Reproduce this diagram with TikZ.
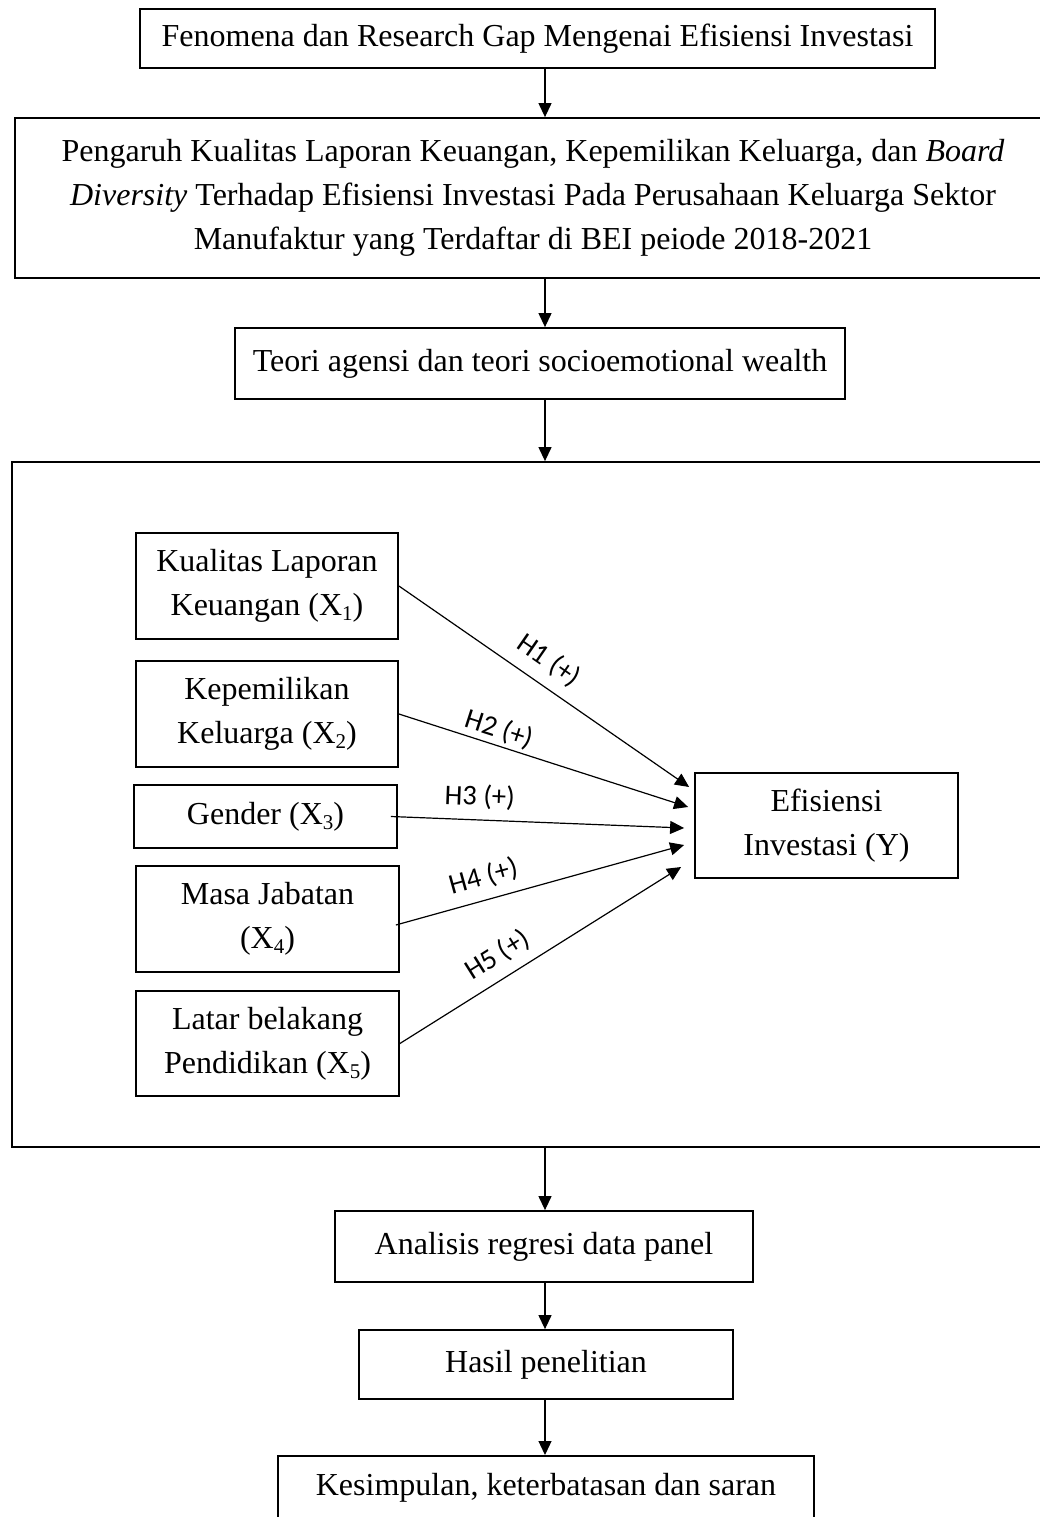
\documentclass[tikz,border=0pt]{standalone}
\usepackage{fontspec}
\setmainfont{Liberation Serif}
\newfontfamily\lblfont{Carlito}
\usetikzlibrary{arrows.meta,calc}
\newcommand\xsub[1]{\raisebox{-0.16em}{\fontsize{21}{21}\selectfont #1}}
\newcommand\mainsz{\fontsize{32}{44}\selectfont}
\tikzset{
  box/.style={draw=black, line width=1.8pt, inner sep=0pt, align=center, font=\mainsz},
  arr/.style={-{Triangle[length=14pt,width=13pt]}, line width=1.2pt},
  hlbl/.style={font=\lblfont\fontsize{28.5}{30}\selectfont, sloped, inner sep=0pt}
}
\begin{document}
\begin{tikzpicture}[x=1pt,y=-1pt]
\useasboundingbox (0,0) rectangle (1040,1517);
\fill[white] (0,0) rectangle (1040,1517);
\coordinate (ax) at (545,0);

\node[box, minimum width=795pt, minimum height=59pt] (b1) at (537.5,38.7)
  {Fenomena dan Research Gap Mengenai Efisiensi Investasi};
\node[box, minimum width=1036pt, minimum height=160pt] (b2) at (533,198)
  {Pengaruh Kualitas Laporan Keuangan, Kepemilikan Keluarga, dan \textit{Board}\\
   \textit{Diversity} Terhadap Efisiensi Investasi Pada Perusahaan Keluarga Sektor\\
   Manufaktur yang Terdaftar di BEI peiode 2018-2021};
\node[box, minimum width=610pt, minimum height=71pt] (b3) at (540,363.5)
  {Teori agensi dan teori socioemotional wealth};
\node[box, minimum width=1048pt, minimum height=685pt] (frame) at (536,804.5) {};

\node[box, minimum width=262pt, minimum height=106pt] (k1) at (267,586)
  {Kualitas Laporan\\Keuangan (X\xsub{1})};
\node[box, minimum width=262pt, minimum height=106pt] (k2) at (267,714)
  {Kepemilikan\\Keluarga (X\xsub{2})};
\node[box, minimum width=263pt, minimum height=63pt] (g) at (265.5,816.5)
  {Gender (X\xsub{3})};
\node[box, minimum width=263pt, minimum height=106pt] (m) at (267.5,919)
  {Masa Jabatan\\(X\xsub{4})};
\node[box, minimum width=263pt, minimum height=105pt] (l) at (267.5,1043.5)
  {Latar belakang\\Pendidikan (X\xsub{5})};
\node[box, minimum width=263pt, minimum height=105pt] (y) at (826.5,825.5)
  {Efisiensi\\Investasi (Y)};

\node[box, minimum width=418pt, minimum height=71pt] (a) at (544,1246.5)
  {Analisis regresi data panel};
\node[box, minimum width=374pt, minimum height=69pt] (h) at (546,1364.5)
  {Hasil penelitian};
\node[box, minimum width=536pt, text height=40pt, text depth=40pt, anchor=north] (ks) at (546,1455)
  {Kesimpulan, keterbatasan dan saran};

\draw[arr] (b1.south -| ax) -- (b2.north -| ax);
\draw[arr] (b2.south -| ax) -- (b3.north -| ax);
\draw[arr] (b3.south -| ax) -- (frame.north -| ax);
\draw[arr] (frame.south -| ax) -- (a.north -| ax);
\draw[arr] (a.south -| ax) -- (h.north -| ax);
\draw[arr] (h.south -| ax) -- (ks.north -| ax);

\draw[arr] (k1.east) -- node[hlbl, pos=0.47, above=11pt] {H1 (+)} ($(y.west)+(-5,-38.5)$);
\draw[arr] (k2.east) -- node[hlbl, pos=0.33, above=3pt] {H2 (+)} ($(y.west)+(-6,-18.5)$);
\draw[arr] ([xshift=-7pt]g.east) -- node[hlbl, pos=0.30, above=10pt] {H3 (+)} ($(y.west)+(-10,2.5)$);
\draw[arr] ($(m.east)+(-4,6)$) -- node[hlbl, pos=0.325, above=10pt] {H4 (+)} ($(y.west)+(-10,19.5)$);
\draw[arr] (l.east) -- node[hlbl, pos=0.39, above=10pt] {H5 (+)} ($(y.west)+(-13,41.5)$);
\end{tikzpicture}
\end{document}
